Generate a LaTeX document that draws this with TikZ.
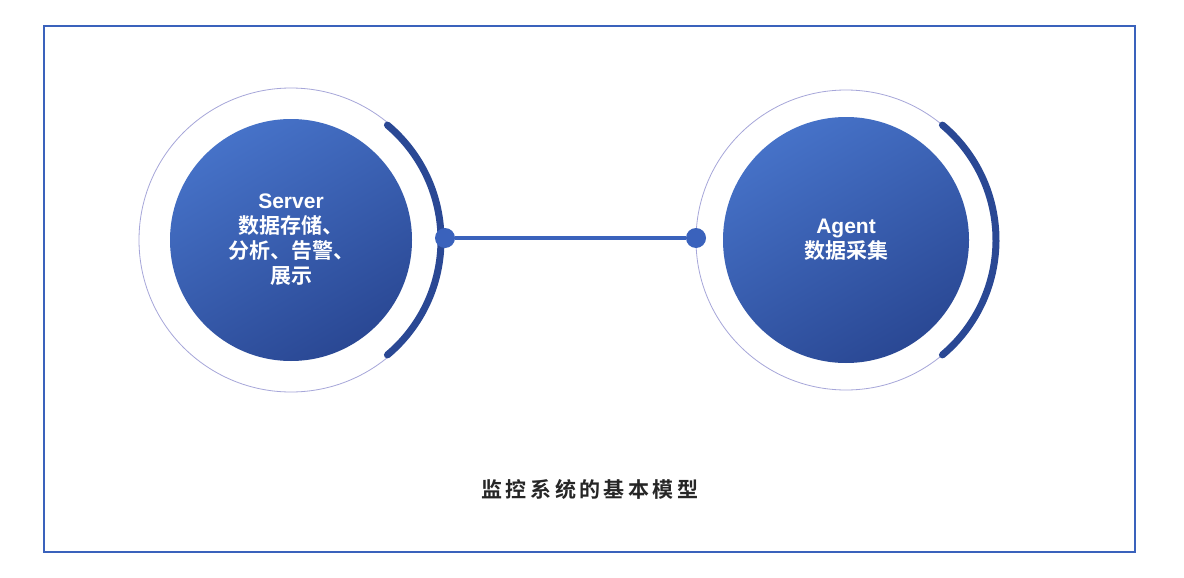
\documentclass[tikz,border=0pt]{standalone}
\usepackage{fontspec}
\setmainfont{Liberation Sans}
\newfontfamily\cjk{Noto Sans CJK SC}[BoldFont={Noto Sans CJK SC Bold}]
\begin{document}
\begin{tikzpicture}[x=1pt,y=-1pt,
  ring/.style={draw=blue!40!gray!50, line width=0.8pt},
  core/.style={circle, minimum size=#1, inner sep=0pt, shading=axis, top color=bblue1, bottom color=bblue2, shading angle=30, text=white, align=center, font=\bfseries\fontsize{21}{25}\selectfont\cjk},
  arcline/.style={draw=bblue2, line width=7pt, line cap=round},
  dot/.style={circle, fill=bblue3, minimum size=20pt, inner sep=0pt},
  link/.style={draw=bblue3, line width=3.5pt}]
\definecolor{bblue1}{HTML}{4672C8}
\definecolor{bblue2}{HTML}{2A4894}
\definecolor{bblue3}{HTML}{3A62BC}
\definecolor{frame}{HTML}{3A62BC}
\useasboundingbox (0,0) rectangle (1184,578);
\fill[white] (0,0) rectangle (1184,578);
\node[draw=frame, line width=1.5pt, minimum width=1091pt, minimum height=526pt, inner sep=0pt] (frame) at (589.5,289) {};
% left
\draw[ring] (291,240) circle (152);
\node[core=242pt] (server) at (291,240) {{\fontspec{Liberation Sans}\bfseries Server}\\数据存储、\\分析、告警、\\展示};
\draw[arcline] (291,240) ++(-50:150) arc[start angle=-50, end angle=50, radius=150];
% right
\draw[ring] (846,240) circle (150);
\node[core=246pt] (agent) at (846,240) {{\fontspec{Liberation Sans}\bfseries Agent}\\数据采集};
\draw[arcline] (846,240) ++(-50:150) arc[start angle=-50, end angle=50, radius=150];
\node[dot] (d1) at (445,238) {};
\node[dot] (d2) at (696,238) {};
\draw[link] (d1) -- (d2);
\node[font=\bfseries\fontsize{21}{25}\selectfont\cjk, text=black!85] (title) at (590,489) {监\,控\,系\,统\,的\,基\,本\,模\,型};
\end{tikzpicture}
\end{document}
